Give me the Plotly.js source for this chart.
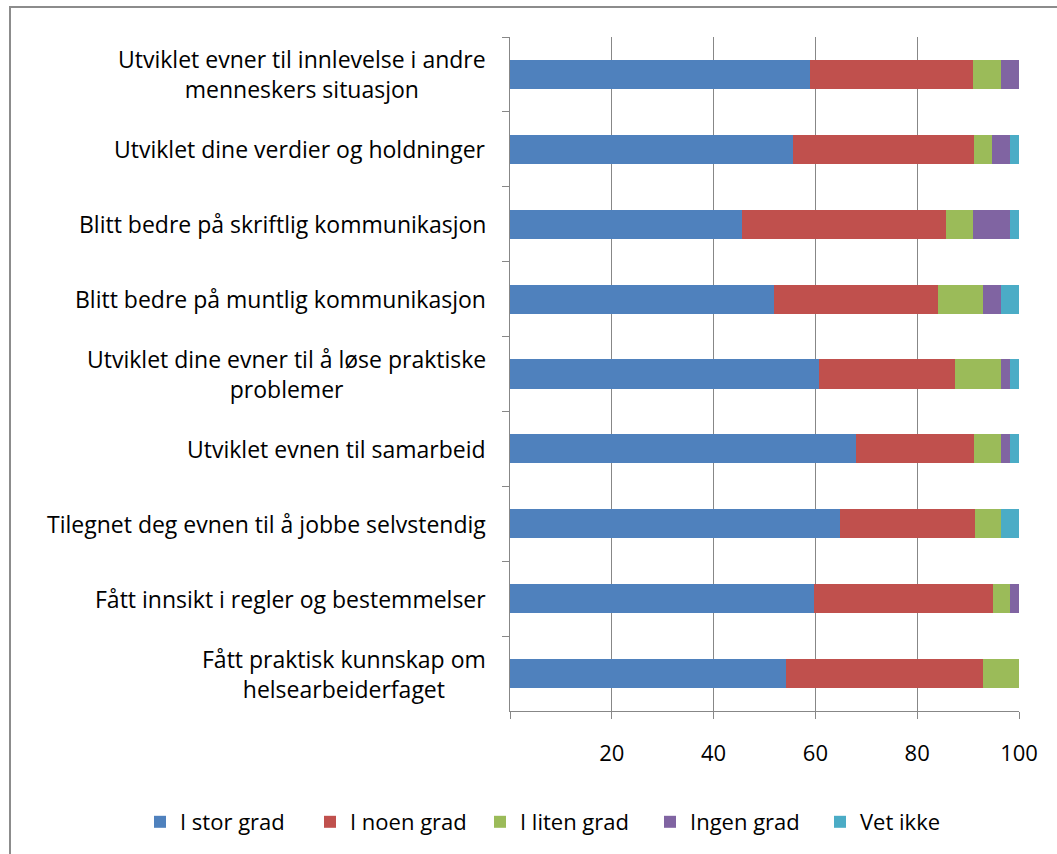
<!DOCTYPE html>
<html>
<head>
<meta charset="utf-8">
<script src="https://cdn.plot.ly/plotly-3.0.1.min.js"></script>
<style>
html,body{margin:0;padding:0;background:#fff;}
#chart{width:1057px;height:854px;}
</style>
</head>
<body>
<div id="chart"></div>
<script>
// Categories, top to bottom
const categories = [
  "Utviklet evner til innlevelse i andre<br>menneskers situasjon",
  "Utviklet dine verdier og holdninger",
  "Blitt bedre på skriftlig kommunikasjon",
  "Blitt bedre på muntlig kommunikasjon",
  "Utviklet dine evner til å løse praktiske<br>problemer",
  "Utviklet evnen til samarbeid",
  "Tilegnet deg evnen til å jobbe selvstendig",
  "Fått innsikt i regler og bestemmelser",
  "Fått praktisk kunnskap om<br>helsearbeiderfaget"
];
const seriesNames = ["I stor grad", "I noen grad", "I liten grad", "Ingen grad", "Vet ikke"];
const iStorGrad   = [58.9, 55.5, 45.6, 51.8, 60.8, 67.9, 64.9, 59.7, 54.3];
const iNoenGrad   = [32.1, 35.6, 40.0, 32.2, 26.7, 23.2, 26.4, 35.1, 38.7];
const iLitenGrad  = [5.4, 3.6, 5.4, 8.9, 9.0, 5.4, 5.2, 3.5, 7.0];
const ingenGrad   = [3.6, 3.5, 7.2, 3.6, 1.7, 1.7, 0, 1.7, 0];
const vetIkke     = [0, 1.8, 1.8, 3.5, 1.8, 1.8, 3.5, 0, 0];
const xTickVals   = [0, 20, 40, 60, 80, 100];
const xTickText   = ["", "20", "40", "60", "80", "100"];

const colors = ["#4F81BD", "#C0504D", "#9BBB59", "#8064A2", "#4BACC6"];
const allSeries = [iStorGrad, iNoenGrad, iLitenGrad, ingenGrad, vetIkke];
const FONT = "Open Sans, Noto Sans, sans-serif";

const traces = allSeries.map((vals, i) => ({
  type: "bar",
  orientation: "h",
  name: seriesNames[i],
  x: vals,
  y: categories,
  width: 0.39,
  marker: {color: colors[i], line: {width: 0}},
  hoverinfo: "x+name"
}));

const W = 1057, H = 854;
const mL = 510, mR = 38, mT = 37, mB = 142;
const pw = W - mL - mR, ph = H - mT - mB;
const px = v => (v - mL) / pw;
const py = v => 1 - (v - mT) / ph;

const annotations = categories.map(c => ({
  xref: "paper", yref: "y",
  x: 0, y: c,
  xanchor: "right", yanchor: "middle",
  xshift: -22,
  align: "center",
  text: c,
  showarrow: false,
  font: {family: FONT, size: 23, color: "#000"}
}));

const layout = {
  width: W, height: H,
  margin: {l: mL, r: mR, t: mT, b: mB, pad: 0},
  paper_bgcolor: "#fff",
  plot_bgcolor: "#fff",
  barmode: "stack",
  font: {family: FONT, size: 22, color: "#000"},
  xaxis: {
    range: [0, 100],
    tickvals: xTickVals,
    ticktext: xTickText,
    showgrid: true,
    gridcolor: "#878787",
    gridwidth: 1,
    zeroline: false,
    showline: true,
    linecolor: "#878787",
    linewidth: 1,
    ticks: "outside",
    ticklen: 7,
    tickcolor: "#878787",
    ticklabelstandoff: 16,
    tickfont: {family: FONT, size: 22, color: "#000"},
    fixedrange: true
  },
  yaxis: {
    type: "category",
    autorange: "reversed",
    showticklabels: false,
    showgrid: false,
    zeroline: false,
    showline: true,
    linecolor: "#878787",
    linewidth: 1,
    ticks: "outside",
    tickson: "boundaries",
    ticklen: 7,
    tickcolor: "#878787",
    fixedrange: true
  },
  showlegend: true,
  legend: {
    orientation: "h",
    xref: "paper", yref: "paper",
    x: px(140), y: py(822),
    xanchor: "left", yanchor: "middle",
    entrywidth: 125,
    entrywidthmode: "pixels",
    font: {family: FONT, size: 22, color: "#000"},
    traceorder: "normal",
    itemclick: false
  },
  annotations: annotations,
  shapes: [{
    type: "rect", xref: "paper", yref: "paper",
    x0: px(10), x1: px(1070), y0: py(7), y1: py(870),
    line: {color: "#8c8c8c", width: 2},
    fillcolor: "rgba(0,0,0,0)",
    layer: "above"
  }]
};

Plotly.newPlot("chart", traces, layout, {displayModeBar: false, staticPlot: true});
</script>
</body>
</html>
